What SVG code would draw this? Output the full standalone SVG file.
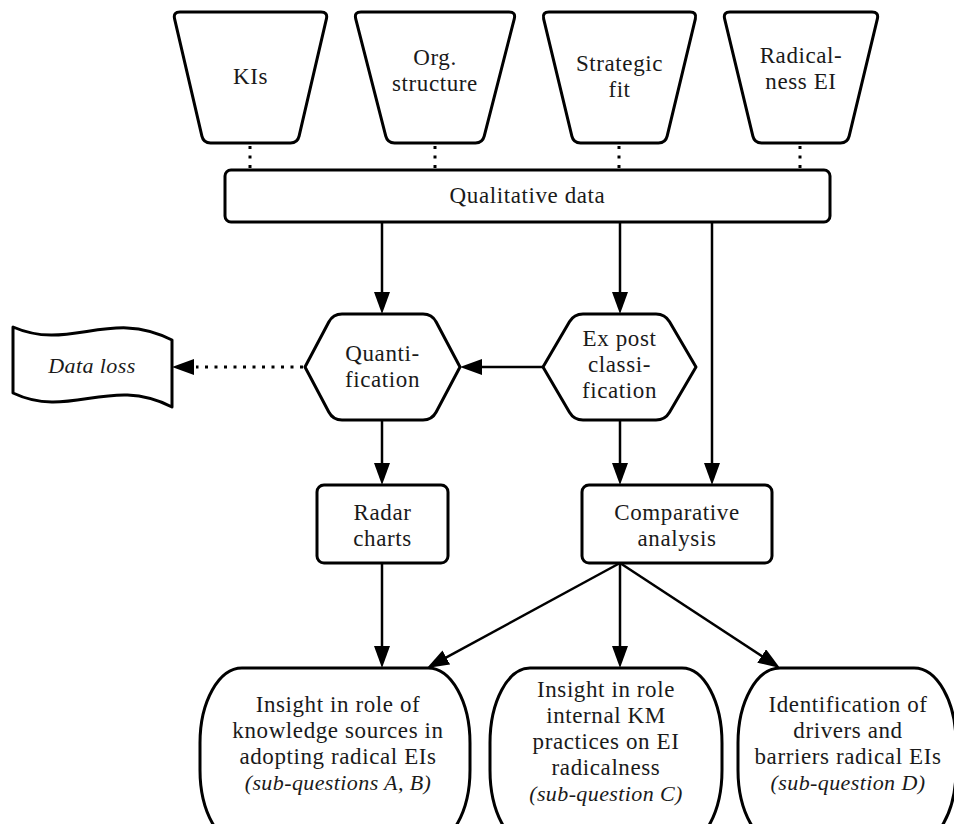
<svg xmlns="http://www.w3.org/2000/svg" width="954" height="824" viewBox="0 0 954 824">
  <defs>
    <style>
      .shape { fill: #ffffff; stroke: #000000; stroke-width: 3; stroke-linejoin: round; }
      .link { fill: none; stroke: #000000; stroke-width: 2.5; }
      .dots { fill: none; stroke: #000000; stroke-width: 3; stroke-dasharray: 3 6.5; }
      .lbl { font-family: "Liberation Serif", "Times New Roman", serif; font-size: 23px; letter-spacing: 0.6px; fill: #1a1a1a; text-anchor: middle; }
      .it { font-family: "Liberation Serif", "Times New Roman", serif; font-size: 22px; letter-spacing: 0.4px; font-style: italic; fill: #1a1a1a; text-anchor: middle; }
    </style>
    <marker id="arrow" markerUnits="userSpaceOnUse" markerWidth="22" markerHeight="16" refX="13" refY="8" orient="auto">
      <path d="M0,0 L22,8 L0,16 Z" fill="#000000"/>
    </marker>
  </defs>

  <rect width="954" height="824" fill="#ffffff"/>

  <!-- connectors -->
  <g id="connectors">
    <!-- dotted feeds from the four data sources -->
    <line class="dots" x1="250" y1="146" x2="250" y2="169"/>
    <line class="dots" x1="435" y1="146" x2="435" y2="169"/>
    <line class="dots" x1="619" y1="146" x2="619" y2="169"/>
    <line class="dots" x1="800" y1="146" x2="800" y2="169"/>

    <line class="link" x1="382" y1="222" x2="382" y2="305" marker-end="url(#arrow)"/>
    <line class="link" x1="620" y1="222" x2="620" y2="305" marker-end="url(#arrow)"/>
    <line class="link" x1="712" y1="222" x2="712" y2="476" marker-end="url(#arrow)"/>

    <line class="link" x1="543" y1="367" x2="469" y2="367" marker-end="url(#arrow)"/>
    <line class="dots" x1="303" y1="367" x2="196" y2="367" stroke-dasharray="3.5 6.5"/>
    <line class="link" x1="190" y1="367" x2="181" y2="367" marker-end="url(#arrow)"/>

    <line class="link" x1="382" y1="420" x2="382" y2="476" marker-end="url(#arrow)"/>
    <line class="link" x1="620" y1="420" x2="620" y2="476" marker-end="url(#arrow)"/>

    <line class="link" x1="382" y1="563" x2="382" y2="659" marker-end="url(#arrow)"/>
    <line class="link" x1="620" y1="563" x2="434.9" y2="663.7" marker-end="url(#arrow)"/>
    <line class="link" x1="620" y1="563" x2="620" y2="659" marker-end="url(#arrow)"/>
    <line class="link" x1="620" y1="563" x2="772.5" y2="663.1" marker-end="url(#arrow)"/>
  </g>

  <!-- data sources -->
  <g id="kis">
    <path class="shape" d="M180,12 L321,12 Q328,12 326.41,18.82 L299.09,136.18 Q297.5,143 290.5,143 L210.5,143 Q203.5,143 201.91,136.18 L174.59,18.82 Q173,12 180,12 Z"/>
    <text class="lbl" x="250.5" y="84">KIs</text>
  </g>
  <g id="org-structure">
    <path class="shape" d="M361,12 L509,12 Q516,12 514.27,18.78 L484.23,136.22 Q482.5,143 475.5,143 L394.5,143 Q387.5,143 385.77,136.22 L355.73,18.78 Q354,12 361,12 Z"/>
    <text class="lbl" x="435" y="65">Org.</text>
    <text class="lbl" x="435" y="91">structure</text>
  </g>
  <g id="strategic-fit">
    <path class="shape" d="M549,12 L690,12 Q697,12 695.36,18.81 L667.14,136.19 Q665.5,143 658.5,143 L580.5,143 Q573.5,143 571.86,136.19 L543.64,18.81 Q542,12 549,12 Z"/>
    <text class="lbl" x="619.5" y="71">Strategic</text>
    <text class="lbl" x="619.5" y="97">fit</text>
  </g>
  <g id="radicalness">
    <path class="shape" d="M730,12 L872,12 Q879,12 877.36,18.81 L849.14,136.19 Q847.5,143 840.5,143 L761.5,143 Q754.5,143 752.86,136.19 L724.64,18.81 Q723,12 730,12 Z"/>
    <text class="lbl" x="801" y="63">Radical-</text>
    <text class="lbl" x="801" y="89">ness EI</text>
  </g>

  <g id="qualitative-data">
    <rect class="shape" x="225" y="170" width="605" height="52" rx="6"/>
    <text class="lbl" x="527.5" y="203">Qualitative data</text>
  </g>

  <!-- processing steps -->
  <g id="quantification">
    <path class="shape" d="M342,314 L423,314 Q432,314 436.2,321.97 L460,367 L436.2,412.03 Q432,420 423,420 L342,420 Q333,420 328.8,412.03 L305,367 L328.8,321.97 Q333,314 342,314 Z"/>
    <text class="lbl" x="382.5" y="361">Quanti-</text>
    <text class="lbl" x="382.5" y="387">fication</text>
  </g>
  <g id="ex-post-classification">
    <path class="shape" d="M583,314 L656,314 Q665,314 669.54,321.77 L696,367 L669.54,412.23 Q665,420 656,420 L583,420 Q574,420 569.46,412.23 L543,367 L569.46,321.77 Q574,314 583,314 Z"/>
    <text class="lbl" x="619.5" y="346">Ex post</text>
    <text class="lbl" x="619.5" y="372">classi-</text>
    <text class="lbl" x="619.5" y="398">fication</text>
  </g>
  <g id="data-loss">
    <path class="shape" d="M13,327 C70,352 110,308 172,340 L172,407 C110,375 70,420 13,393 Z"/>
    <text class="it" x="92" y="373">Data loss</text>
  </g>

  <g id="radar-charts">
    <rect class="shape" x="317" y="485" width="131" height="78" rx="7"/>
    <text class="lbl" x="382.5" y="520">Radar</text>
    <text class="lbl" x="382.5" y="546">charts</text>
  </g>
  <g id="comparative-analysis">
    <rect class="shape" x="582" y="485" width="190" height="78" rx="7"/>
    <text class="lbl" x="677" y="520">Comparative</text>
    <text class="lbl" x="677" y="546">analysis</text>
  </g>

  <!-- outcomes -->
  <g id="insight-knowledge-sources">
    <path class="shape" d="M242,668 H428 A42,75 0 0 1 470,743 V770 A42,75 0 0 1 428,845 H242 A42,75 0 0 1 200,770 V743 A42,75 0 0 1 242,668 Z"/>
    <text class="lbl" x="338" y="712">Insight in role of</text>
    <text class="lbl" x="338" y="738">knowledge sources in</text>
    <text class="lbl" x="338" y="764">adopting radical EIs</text>
    <text class="it" x="338" y="790">(sub-questions A, B)</text>
  </g>
  <g id="insight-km-practices">
    <path class="shape" d="M530,668 H682 A40,75 0 0 1 722,743 V770 A40,75 0 0 1 682,845 H530 A40,75 0 0 1 490,770 V743 A40,75 0 0 1 530,668 Z"/>
    <text class="lbl" x="606" y="697">Insight in role</text>
    <text class="lbl" x="606" y="723">internal KM</text>
    <text class="lbl" x="606" y="749">practices on EI</text>
    <text class="lbl" x="606" y="775">radicalness</text>
    <text class="it" x="606" y="801">(sub-question C)</text>
  </g>
  <g id="drivers-barriers">
    <path class="shape" d="M780,668 H914 A42,75 0 0 1 956,743 V770 A42,75 0 0 1 914,845 H780 A42,75 0 0 1 738,770 V743 A42,75 0 0 1 780,668 Z"/>
    <text class="lbl" x="848" y="712">Identification of</text>
    <text class="lbl" x="848" y="738">drivers and</text>
    <text class="lbl" x="848" y="764">barriers radical EIs</text>
    <text class="it" x="848" y="790">(sub-question D)</text>
  </g>
</svg>
